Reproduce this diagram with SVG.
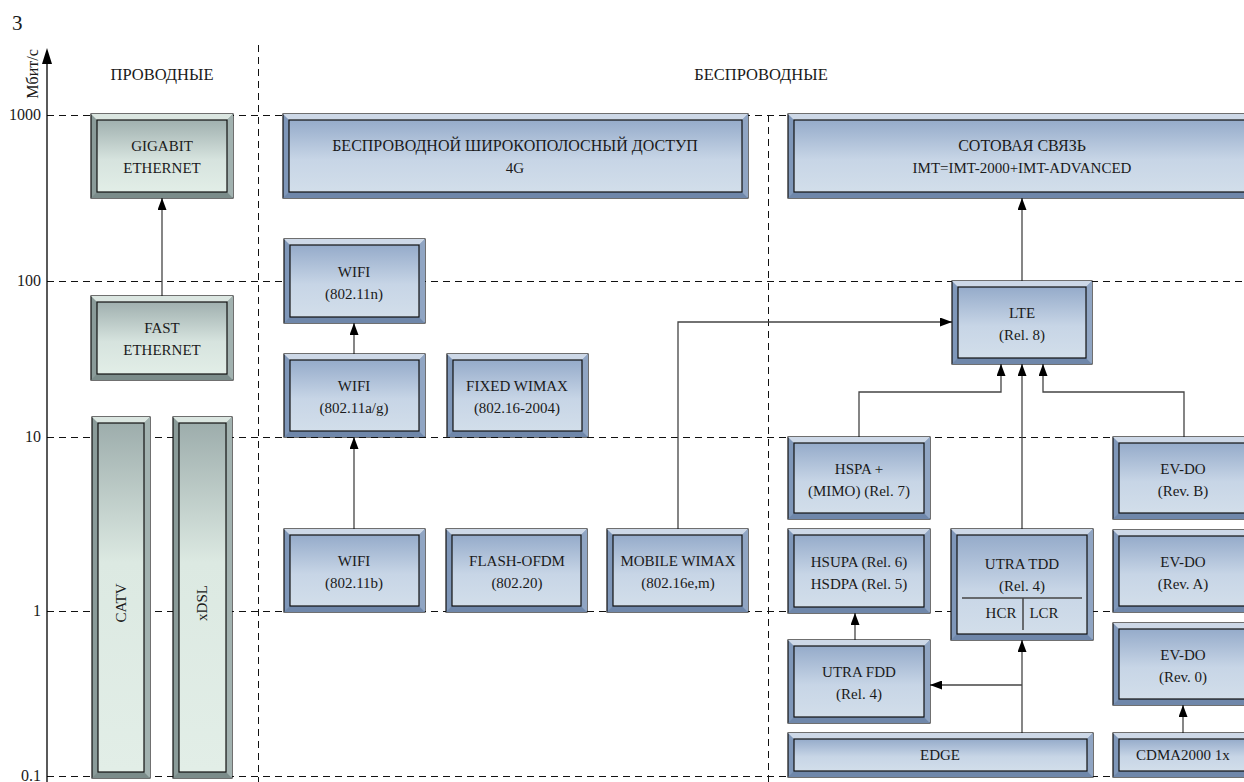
<svg xmlns="http://www.w3.org/2000/svg" width="1244" height="782" viewBox="0 0 1244 782" font-family="'Liberation Serif', 'DejaVu Serif', serif" font-size="15">
<defs>
<linearGradient id="gBlue" x1="0" y1="0" x2="0" y2="1">
<stop offset="0" stop-color="#95abca"/>
<stop offset="0.55" stop-color="#c7d5e6"/>
<stop offset="1" stop-color="#d2deea"/>
</linearGradient>
<linearGradient id="gGreen" x1="0" y1="0" x2="0" y2="1">
<stop offset="0" stop-color="#a0b0af"/>
<stop offset="0.55" stop-color="#d6e3de"/>
<stop offset="1" stop-color="#e2eee7"/>
</linearGradient>
<linearGradient id="gGreenTall" x1="0" y1="0" x2="0" y2="1">
<stop offset="0" stop-color="#9dadac"/>
<stop offset="0.4" stop-color="#dce9e2"/>
<stop offset="1" stop-color="#e2eee7"/>
</linearGradient>
<marker id="arr" markerUnits="userSpaceOnUse" markerWidth="12" markerHeight="9" refX="12" refY="4.5" orient="auto">
<path d="M0,0 L12,4.5 L0,9 z" fill="#000"/>
</marker>
</defs>
<style>
.grid{stroke:#111;stroke-width:1;stroke-dasharray:7 5;fill:none}
.axis{stroke:#000;stroke-width:1.3;fill:none}
.conn{stroke:#444;stroke-width:1.3;fill:none;marker-end:url(#arr)}
text{font-family:'Liberation Serif','DejaVu Serif',serif;font-size:15px;fill:#1a1a1a}
.cy{font-size:16px}
.hd{font-size:16.5px}
.num{font-size:16px}
.c{text-anchor:middle}
.r{text-anchor:end}
.blue .o{fill:#7f97b9;stroke:#111;stroke-width:1.2}
.blue .t{fill:#cdd8e7}
.blue .b{fill:#6f87aa}
.blue .rt{fill:#90a5c3}
.blue .i{fill:url(#gBlue);stroke:#111;stroke-width:1.2}
.green .o{fill:#8a9b99;stroke:#111;stroke-width:1.2}
.green .t{fill:#dbe6e1}
.green .b{fill:#7b8c8a}
.green .rt{fill:#a2b2b0}
.green .i{fill:url(#gGreen);stroke:#111;stroke-width:1.2}
.green .it{fill:url(#gGreenTall);stroke:#111;stroke-width:1.2}
.div{stroke:#444;stroke-width:1.5}
</style>

<g id="grid">
<line class="grid" x1="47" y1="115.5" x2="1244" y2="115.5"/>
<line class="grid" x1="47" y1="281.5" x2="1244" y2="281.5"/>
<line class="grid" x1="47" y1="437.5" x2="1244" y2="437.5"/>
<line class="grid" x1="47" y1="611.5" x2="1244" y2="611.5"/>
<line class="grid" x1="47" y1="776.5" x2="1244" y2="776.5"/>
<line class="grid" x1="258.5" y1="45" x2="258.5" y2="782"/>
<line class="grid" x1="768.5" y1="115" x2="768.5" y2="782"/>
</g>

<g id="axis">
<line class="axis" x1="47" y1="782" x2="47" y2="60"/>
<path d="M47,48 L42,64 L52,64 z" fill="#000"/>
<text x="12" y="30" style="font-size:21px">3</text>
<text transform="translate(38,74) rotate(-90)" class="c num">Мбит/с</text>
<text x="41" y="120" class="r num">1000</text>
<text x="41" y="286" class="r num">100</text>
<text x="41" y="442" class="r num">10</text>
<text x="41" y="616" class="r num">1</text>
<text x="41" y="781" class="r num">0.1</text>
<text x="162" y="80" class="c hd">ПРОВОДНЫЕ</text>
<text x="761" y="80" class="c hd">БЕСПРОВОДНЫЕ</text>
</g>

<g id="connectors">
<line class="conn" x1="162" y1="296" x2="162" y2="198"/>
<line class="conn" x1="354" y1="354" x2="354" y2="323"/>
<line class="conn" x1="354" y1="529" x2="354" y2="437"/>
<path class="conn" d="M678,529 V322 H952"/>
<line class="conn" x1="1022" y1="281" x2="1022" y2="198"/>
<path class="conn" d="M859,437 V392 H1001 V364"/>
<line class="conn" x1="1022" y1="529" x2="1022" y2="364"/>
<path class="conn" d="M1184,437 V392 H1043 V364"/>
<line class="conn" x1="855" y1="640" x2="855" y2="613"/>
<line class="conn" x1="1022" y1="733" x2="1022" y2="640"/>
<line class="conn" x1="1022" y1="685" x2="930" y2="685"/>
<line class="conn" x1="1183" y1="733" x2="1183" y2="705"/>
</g>

<g id="n-gigabit" class="green">
<rect class="o" x="91" y="114" width="142" height="84"/>
<polygon class="t" points="91,114 233,114 227,120 97,120"/>
<polygon class="b" points="91,198 233,198 227,192 97,192"/>
<polygon class="rt" points="233,114 233,198 227,192 227,120"/>
<rect class="i" x="97" y="120" width="130" height="72"/>
<text x="162" y="151" class="c">GIGABIT</text>
<text x="162" y="173" class="c">ETHERNET</text>
</g>
<g id="n-fast" class="green">
<rect class="o" x="91" y="296" width="142" height="84"/>
<polygon class="t" points="91,296 233,296 227,302 97,302"/>
<polygon class="b" points="91,380 233,380 227,374 97,374"/>
<polygon class="rt" points="233,296 233,380 227,374 227,302"/>
<rect class="i" x="97" y="302" width="130" height="72"/>
<text x="162" y="333" class="c">FAST</text>
<text x="162" y="355" class="c">ETHERNET</text>
</g>
<g id="n-catv" class="green">
<rect class="o" x="92" y="417" width="58" height="361"/>
<polygon class="t" points="92,417 150,417 144,423 98,423"/>
<polygon class="b" points="92,778 150,778 144,772 98,772"/>
<polygon class="rt" points="150,417 150,778 144,772 144,423"/>
<rect class="it" x="98" y="423" width="46" height="349"/>
<text transform="translate(126,603) rotate(-90)" class="c">CATV</text>
</g>
<g id="n-xdsl" class="green">
<rect class="o" x="173" y="417" width="59" height="361"/>
<polygon class="t" points="173,417 232,417 226,423 179,423"/>
<polygon class="b" points="173,778 232,778 226,772 179,772"/>
<polygon class="rt" points="232,417 232,778 226,772 226,423"/>
<rect class="it" x="179" y="423" width="47" height="349"/>
<text transform="translate(207,603) rotate(-90)" class="c">xDSL</text>
</g>

<g id="n-bwa" class="blue">
<rect class="o" x="283" y="114" width="465" height="84"/>
<polygon class="t" points="283,114 748,114 742,120 289,120"/>
<polygon class="b" points="283,198 748,198 742,192 289,192"/>
<polygon class="rt" points="748,114 748,198 742,192 742,120"/>
<rect class="i" x="289" y="120" width="453" height="72"/>
<text x="515" y="151" class="c cy">БЕСПРОВОДНОЙ ШИРОКОПОЛОСНЫЙ ДОСТУП</text>
<text x="515" y="173" class="c">4G</text>
</g>
<g id="n-wifi-n" class="blue">
<rect class="o" x="284" y="239" width="141" height="84"/>
<polygon class="t" points="284,239 425,239 419,245 290,245"/>
<polygon class="b" points="284,323 425,323 419,317 290,317"/>
<polygon class="rt" points="425,239 425,323 419,317 419,245"/>
<rect class="i" x="290" y="245" width="129" height="72"/>
<text x="354" y="277" class="c">WIFI</text>
<text x="354" y="299" class="c">(802.11n)</text>
</g>
<g id="n-wifi-ag" class="blue">
<rect class="o" x="284" y="354" width="141" height="83"/>
<polygon class="t" points="284,354 425,354 419,360 290,360"/>
<polygon class="b" points="284,437 425,437 419,431 290,431"/>
<polygon class="rt" points="425,354 425,437 419,431 419,360"/>
<rect class="i" x="290" y="360" width="129" height="71"/>
<text x="354" y="391" class="c">WIFI</text>
<text x="354" y="413" class="c">(802.11a/g)</text>
</g>
<g id="n-fixed-wimax" class="blue">
<rect class="o" x="447" y="354" width="141" height="83"/>
<polygon class="t" points="447,354 588,354 582,360 453,360"/>
<polygon class="b" points="447,437 588,437 582,431 453,431"/>
<polygon class="rt" points="588,354 588,437 582,431 582,360"/>
<rect class="i" x="453" y="360" width="129" height="71"/>
<text x="517" y="391" class="c">FIXED WIMAX</text>
<text x="517" y="413" class="c">(802.16-2004)</text>
</g>
<g id="n-wifi-b" class="blue">
<rect class="o" x="284" y="529" width="141" height="83"/>
<polygon class="t" points="284,529 425,529 419,535 290,535"/>
<polygon class="b" points="284,612 425,612 419,606 290,606"/>
<polygon class="rt" points="425,529 425,612 419,606 419,535"/>
<rect class="i" x="290" y="535" width="129" height="71"/>
<text x="354" y="566" class="c">WIFI</text>
<text x="354" y="588" class="c">(802.11b)</text>
</g>
<g id="n-flash" class="blue">
<rect class="o" x="446" y="529" width="141" height="83"/>
<polygon class="t" points="446,529 587,529 581,535 452,535"/>
<polygon class="b" points="446,612 587,612 581,606 452,606"/>
<polygon class="rt" points="587,529 587,612 581,606 581,535"/>
<rect class="i" x="452" y="535" width="129" height="71"/>
<text x="517" y="566" class="c">FLASH-OFDM</text>
<text x="517" y="588" class="c">(802.20)</text>
</g>
<g id="n-mobile-wimax" class="blue">
<rect class="o" x="607" y="529" width="141" height="83"/>
<polygon class="t" points="607,529 748,529 742,535 613,535"/>
<polygon class="b" points="607,612 748,612 742,606 613,606"/>
<polygon class="rt" points="748,529 748,612 742,606 742,535"/>
<rect class="i" x="613" y="535" width="129" height="71"/>
<text x="678" y="566" class="c">MOBILE WIMAX</text>
<text x="678" y="588" class="c">(802.16e,m)</text>
</g>

<g id="n-cellular" class="blue">
<rect class="o" x="788" y="114" width="470" height="84"/>
<polygon class="t" points="788,114 1258,114 1252,120 794,120"/>
<polygon class="b" points="788,198 1258,198 1252,192 794,192"/>
<rect class="i" x="794" y="120" width="458" height="72"/>
<text x="1022" y="151" class="c cy">СОТОВАЯ СВЯЗЬ</text>
<text x="1022" y="173" class="c">IMT=IMT-2000+IMT-ADVANCED</text>
</g>
<g id="n-lte" class="blue">
<rect class="o" x="952" y="281" width="140" height="83"/>
<polygon class="t" points="952,281 1092,281 1086,287 958,287"/>
<polygon class="b" points="952,364 1092,364 1086,358 958,358"/>
<polygon class="rt" points="1092,281 1092,364 1086,358 1086,287"/>
<rect class="i" x="958" y="287" width="128" height="71"/>
<text x="1022" y="318" class="c">LTE</text>
<text x="1022" y="340" class="c">(Rel. 8)</text>
</g>
<g id="n-hspa" class="blue">
<rect class="o" x="788" y="437" width="142" height="82"/>
<polygon class="t" points="788,437 930,437 924,443 794,443"/>
<polygon class="b" points="788,519 930,519 924,513 794,513"/>
<polygon class="rt" points="930,437 930,519 924,513 924,443"/>
<rect class="i" x="794" y="443" width="130" height="70"/>
<text x="859" y="474" class="c">HSPA +</text>
<text x="859" y="496" class="c">(MIMO) (Rel. 7)</text>
</g>
<g id="n-hsupa" class="blue">
<rect class="o" x="788" y="529" width="142" height="84"/>
<polygon class="t" points="788,529 930,529 924,535 794,535"/>
<polygon class="b" points="788,613 930,613 924,607 794,607"/>
<polygon class="rt" points="930,529 930,613 924,607 924,535"/>
<rect class="i" x="794" y="535" width="130" height="72"/>
<text x="859" y="567" class="c">HSUPA (Rel. 6)</text>
<text x="859" y="589" class="c">HSDPA (Rel. 5)</text>
</g>
<g id="n-utra-tdd" class="blue">
<rect class="o" x="951" y="529" width="142" height="111"/>
<polygon class="t" points="951,529 1093,529 1087,535 957,535"/>
<polygon class="b" points="951,640 1093,640 1087,634 957,634"/>
<polygon class="rt" points="1093,529 1093,640 1087,634 1087,535"/>
<rect class="i" x="957" y="535" width="130" height="99"/>
<text x="1022" y="569" class="c">UTRA TDD</text>
<text x="1022" y="591" class="c">(Rel. 4)</text>
<line class="div" x1="962" y1="598" x2="1082" y2="598"/>
<line class="div" x1="1023" y1="598" x2="1023" y2="630"/>
<text x="1001" y="618" class="c">HCR</text>
<text x="1044" y="618" class="c">LCR</text>
</g>
<g id="n-utra-fdd" class="blue">
<rect class="o" x="788" y="640" width="142" height="83"/>
<polygon class="t" points="788,640 930,640 924,646 794,646"/>
<polygon class="b" points="788,723 930,723 924,717 794,717"/>
<polygon class="rt" points="930,640 930,723 924,717 924,646"/>
<rect class="i" x="794" y="646" width="130" height="71"/>
<text x="859" y="677" class="c">UTRA FDD</text>
<text x="859" y="699" class="c">(Rel. 4)</text>
</g>
<g id="n-edge" class="blue">
<rect class="o" x="788" y="733" width="305" height="44"/>
<polygon class="t" points="788,733 1093,733 1087,739 794,739"/>
<polygon class="b" points="788,777 1093,777 1087,771 794,771"/>
<polygon class="rt" points="1093,733 1093,777 1087,771 1087,739"/>
<rect class="i" x="794" y="739" width="293" height="32"/>
<text x="940" y="760" class="c">EDGE</text>
</g>
<g id="n-evdo-b" class="blue">
<rect class="o" x="1113" y="437" width="145" height="82"/>
<polygon class="t" points="1113,437 1258,437 1252,443 1119,443"/>
<polygon class="b" points="1113,519 1258,519 1252,513 1119,513"/>
<rect class="i" x="1119" y="443" width="133" height="70"/>
<text x="1183" y="474" class="c">EV-DO</text>
<text x="1183" y="496" class="c">(Rev. B)</text>
</g>
<g id="n-evdo-a" class="blue">
<rect class="o" x="1113" y="530" width="145" height="82"/>
<polygon class="t" points="1113,530 1258,530 1252,536 1119,536"/>
<polygon class="b" points="1113,612 1258,612 1252,606 1119,606"/>
<rect class="i" x="1119" y="536" width="133" height="70"/>
<text x="1183" y="567" class="c">EV-DO</text>
<text x="1183" y="589" class="c">(Rev. A)</text>
</g>
<g id="n-evdo-0" class="blue">
<rect class="o" x="1113" y="623" width="145" height="82"/>
<polygon class="t" points="1113,623 1258,623 1252,629 1119,629"/>
<polygon class="b" points="1113,705 1258,705 1252,699 1119,699"/>
<rect class="i" x="1119" y="629" width="133" height="70"/>
<text x="1183" y="660" class="c">EV-DO</text>
<text x="1183" y="682" class="c">(Rev. 0)</text>
</g>
<g id="n-cdma" class="blue">
<rect class="o" x="1113" y="733" width="145" height="44"/>
<polygon class="t" points="1113,733 1258,733 1252,739 1119,739"/>
<polygon class="b" points="1113,777 1258,777 1252,771 1119,771"/>
<rect class="i" x="1119" y="739" width="133" height="32"/>
<text x="1183" y="760" class="c">CDMA2000 1x</text>
</g>
</svg>
